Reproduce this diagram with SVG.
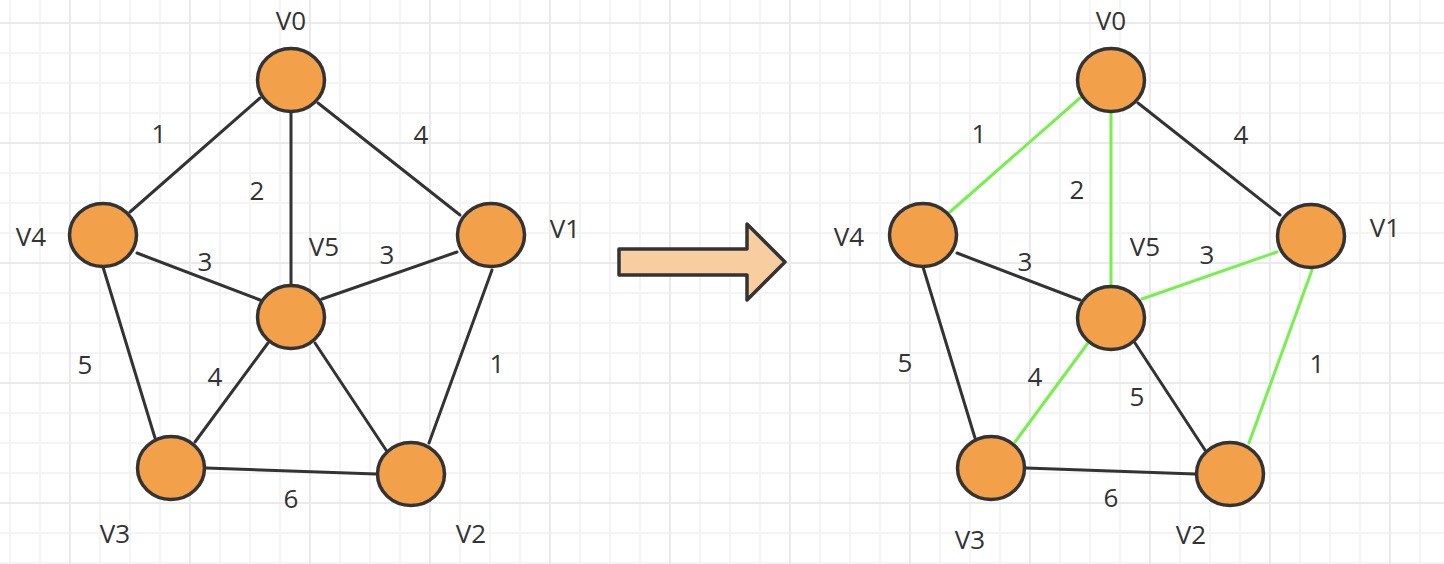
<svg xmlns="http://www.w3.org/2000/svg" width="1444" height="564" viewBox="0 0 1444 564">
<defs>
<pattern id="minor" patternUnits="userSpaceOnUse" x="-5" y="8" width="30" height="30"><path d="M15 0V30M0 15H30" stroke="#f4f4f4" stroke-width="2" fill="none"/></pattern>
<pattern id="major" patternUnits="userSpaceOnUse" x="10" y="-37" width="120" height="120"><path d="M60 0V120M0 60H120" stroke="#eaeaea" stroke-width="2" fill="none"/></pattern>
</defs>
<style>
.e{stroke:#333;stroke-width:3;fill:none;stroke-linecap:round}
.g{stroke:#76f04c}
.n{fill:#f2a04a;stroke:#333;stroke-width:3.5}
text{font-family:"Open Sans","Noto Sans","DejaVu Sans",sans-serif;font-size:26px;fill:#333;text-anchor:middle}
</style>
<rect width="1444" height="564" fill="#fff"/>
<rect width="1444" height="564" fill="url(#minor)"/>
<rect width="1444" height="564" fill="url(#major)"/>

<g id="connectors">
<line class="e" x1="260" y1="98" x2="130" y2="212"/>
<line class="e" x1="291" y1="113" x2="291" y2="285"/>
<line class="e" x1="318" y1="103" x2="460" y2="215"/>
<line class="e" x1="137" y1="253" x2="260" y2="300"/>
<line class="e" x1="322" y1="299" x2="457" y2="252"/>
<line class="e" x1="103" y1="267" x2="155" y2="438"/>
<line class="e" x1="268" y1="343" x2="195" y2="442"/>
<line class="e" x1="315" y1="343" x2="386" y2="450"/>
<line class="e" x1="492" y1="270" x2="429" y2="443"/>
<line class="e" x1="206" y1="468" x2="376" y2="474"/>

<line class="e g" x1="1080" y1="98" x2="950" y2="212"/>
<line class="e g" x1="1111" y1="113" x2="1111" y2="285"/>
<line class="e" x1="1138" y1="103" x2="1280" y2="215"/>
<line class="e" x1="957" y1="253" x2="1080" y2="300"/>
<line class="e g" x1="1142" y1="299" x2="1277" y2="252"/>
<line class="e" x1="923" y1="267" x2="975" y2="438"/>
<line class="e g" x1="1088" y1="343" x2="1015" y2="442"/>
<line class="e" x1="1135" y1="343" x2="1205" y2="450"/>
<line class="e g" x1="1312" y1="270" x2="1249" y2="443"/>
<line class="e" x1="1026" y1="468" x2="1195" y2="474"/>
</g>

<g id="arrow"><polygon points="619,249 747,249 747,224 785,262 747,300 747,275 619,275" fill="#f8cd9f" stroke="#333" stroke-width="3.5" stroke-linejoin="round"/></g>

<g id="L-V0"><ellipse class="n" cx="291" cy="80" rx="33.5" ry="31.5"/><text x="291" y="30">V0</text></g>
<g id="L-V1"><ellipse class="n" cx="491" cy="235" rx="33.5" ry="31.5"/><text x="565" y="238">V1</text></g>
<g id="L-V2"><ellipse class="n" cx="411" cy="474" rx="33.5" ry="31.5"/><text x="471" y="543">V2</text></g>
<g id="L-V3"><ellipse class="n" cx="171" cy="468" rx="33.5" ry="31.5"/><text x="115" y="543">V3</text></g>
<g id="L-V4"><ellipse class="n" cx="103" cy="235" rx="33.5" ry="31.5"/><text x="31" y="246">V4</text></g>
<g id="L-V5"><ellipse class="n" cx="291" cy="317" rx="33.5" ry="31.5"/><text x="324" y="256">V5</text></g>

<g id="R-V0"><ellipse class="n" cx="1111" cy="80" rx="33.5" ry="31.5"/><text x="1111" y="30">V0</text></g>
<g id="R-V1"><ellipse class="n" cx="1311" cy="236" rx="33.5" ry="31.5"/><text x="1385" y="237">V1</text></g>
<g id="R-V2"><ellipse class="n" cx="1230" cy="474" rx="33.5" ry="31.5"/><text x="1191" y="544">V2</text></g>
<g id="R-V3"><ellipse class="n" cx="991" cy="468" rx="33.5" ry="31.5"/><text x="970" y="549">V3</text></g>
<g id="R-V4"><ellipse class="n" cx="923" cy="235" rx="33.5" ry="31.5"/><text x="849" y="246">V4</text></g>
<g id="R-V5"><ellipse class="n" cx="1111" cy="318" rx="33.5" ry="31.5"/><text x="1145" y="256">V5</text></g>

<g id="weights">
<text x="159" y="143">1</text>
<text x="257" y="200">2</text>
<text x="421" y="144">4</text>
<text x="205" y="271">3</text>
<text x="387" y="264">3</text>
<text x="85" y="374">5</text>
<text x="215" y="386">4</text>
<text x="497" y="373">1</text>
<text x="291" y="508">6</text>

<text x="979" y="143">1</text>
<text x="1077" y="199">2</text>
<text x="1241" y="144">4</text>
<text x="1025" y="271">3</text>
<text x="1207" y="264">3</text>
<text x="905" y="372">5</text>
<text x="1035" y="386">4</text>
<text x="1137" y="406">5</text>
<text x="1317" y="373">1</text>
<text x="1111" y="507">6</text>
</g>
</svg>
